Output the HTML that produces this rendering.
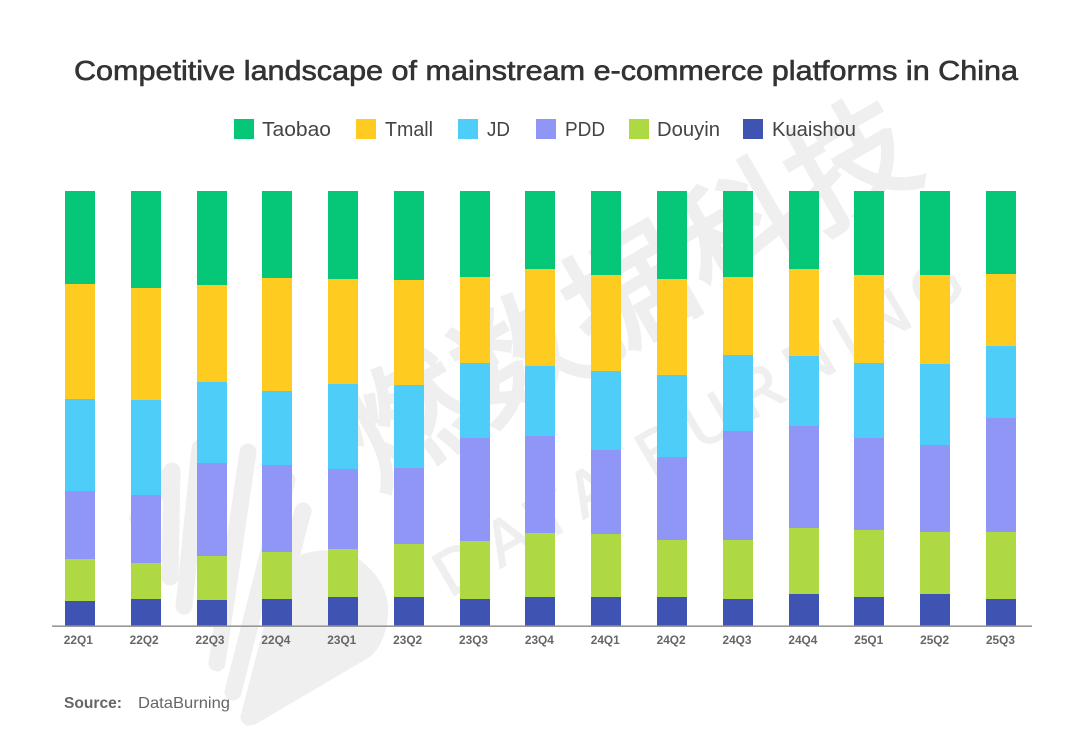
<!DOCTYPE html>
<html lang="en">
<head>
<meta charset="utf-8">
<title>Competitive landscape of mainstream e-commerce platforms in China</title>
<style>
  html, body { margin: 0; padding: 0; background: #fff; }
  #chart { display: block; width: 1080px; height: 750px; }
  text { font-family: "Liberation Sans", "Noto Sans CJK SC", sans-serif; }
</style>
</head>
<body>
<svg id="chart" xmlns="http://www.w3.org/2000/svg" width="1080" height="750" viewBox="0 0 1080 750">
  <rect x="0" y="0" width="1080" height="750" fill="#ffffff"/>

  <g id="watermark" fill="#efefef">
    <g stroke="#efefef" stroke-width="17" stroke-linecap="round" fill="none">
      <line x1="172" y1="471" x2="138" y2="518"/>
      <line x1="172" y1="471" x2="170" y2="577"/>
      <line x1="200" y1="448" x2="184" y2="606"/>
      <line x1="248" y1="452" x2="217" y2="663"/>
      <line x1="287" y1="480" x2="233" y2="692"/>
      <line x1="303" y1="511" x2="249" y2="717"/>
    </g>
    <path fill="#efefef" d="M300 555 C320 548 345 548 360 560 C380 575 390 595 388 615 C386 635 380 650 368 658 L256 724 C248 728 241 722 242 714 Z"/>
    <text transform="translate(376,490) rotate(-30)" font-size="124" letter-spacing="4" font-family="'Noto Sans CJK SC', sans-serif" fill="#efefef" stroke="#efefef" stroke-width="4">燃数据科技</text>
    <text transform="translate(450,598) rotate(-30.5)" font-size="64" textLength="610" fill="#efefef" stroke="#efefef" stroke-width="1.5" letter-spacing="8">DATA BURNING</text>
  </g>

  <text x="74" y="80" font-size="27.5" fill="#333333" stroke="#333333" stroke-width="0.6" textLength="944" lengthAdjust="spacingAndGlyphs">Competitive landscape of mainstream e-commerce platforms in China</text>

  <g id="legend"></g>
  <g id="bars"></g>
  <line x1="52" y1="626.2" x2="1032" y2="626.2" stroke="#999999" stroke-width="1.6"/>
  <g id="ticks"></g>

  <text x="64" y="708" font-size="15.5" font-weight="700" fill="#666666" textLength="58" lengthAdjust="spacingAndGlyphs">Source:</text>
  <text x="138" y="708" font-size="16" fill="#666666" textLength="92" lengthAdjust="spacingAndGlyphs">DataBurning</text>
</svg>

<script>
const quarters = ['22Q1','22Q2','22Q3','22Q4','23Q1','23Q2','23Q3','23Q4','24Q1','24Q2','24Q3','24Q4','25Q1','25Q2','25Q3'];
const taobao   = [21.3,22.3,21.6,20.0,20.2,20.5,19.8,17.9,19.3,20.3,19.8,17.9,19.3,19.3,19.1];
const tmall    = [26.5,25.7,22.3,26.0,24.1,24.1,19.8,22.3,22.1,22.0,17.9,20.0,20.2,20.5,16.6];
const jd       = [21.1,21.8,18.6,17.0,19.5,19.1,17.2,16.1,18.2,18.9,17.5,16.1,17.2,18.6,16.6];
const pdd      = [15.6,15.6,21.4,20.0,18.4,17.5,23.7,22.3,19.3,19.1,25.1,23.4,21.1,20.0,26.2];
const douyin   = [9.7,8.3,10.1,10.8,11.0,12.2,13.3,14.7,14.5,13.1,13.6,15.2,15.4,14.3,15.4];
const kuaishou = [5.7,6.2,6.0,6.2,6.7,6.7,6.2,6.7,6.7,6.7,6.2,7.4,6.7,7.4,6.2];
const seriesNames = ['Taobao','Tmall','JD','PDD','Douyin','Kuaishou'];

const NS = 'http://www.w3.org/2000/svg';
const seriesValues = [taobao, tmall, jd, pdd, douyin, kuaishou];
const seriesColors = ['#05c777','#fecb20','#4dcdf8','#9096f6','#aed942','#3f53b2'];

/* Legend geometry, one slot per series in drawing order */
const legendSwatchX = [234,356,458,536,629,743];
const legendTextX   = [262,385,487,565,657,772];
const legendTextW   = [69,48,23,40,63,84];

function xScale(i) { return 80 + i * 65.78; }
function yScale(v) { return 626 - v * 4.35; }
const barWidth = 30;

const barsLayer = document.getElementById('bars');
quarters.forEach(function (q, i) {
  const group = document.createElementNS(NS, 'g');
  
  
  const left = Math.round(xScale(i) - barWidth / 2);
  let cumulative = 0;
  for (let s = seriesValues.length - 1; s >= 0; s--) {
    const value = seriesValues[s][i];
    const yBottom = Math.round(yScale(cumulative));
    cumulative += value;
    const yTop = Math.round(yScale(cumulative));
    const seg = document.createElementNS(NS, 'rect');
    
    
    seg.setAttribute('x', left);
    seg.setAttribute('y', yTop);
    seg.setAttribute('width', barWidth);
    seg.setAttribute('height', yBottom - yTop);
    seg.setAttribute('fill', seriesColors[s]);
    group.appendChild(seg);
  }
  barsLayer.appendChild(group);
});

const ticksLayer = document.getElementById('ticks');
quarters.forEach(function (q, i) {
  const tick = document.createElementNS(NS, 'text');
  
  
  tick.setAttribute('x', (xScale(i) - 1.7 + i * 0.09 - 14.5).toFixed(2));
  tick.setAttribute('y', 644);
  tick.setAttribute('font-size', 12);
  tick.setAttribute('font-weight', 700);
  tick.setAttribute('fill', '#666666');
  tick.setAttribute('textLength', 29);
  tick.setAttribute('lengthAdjust', 'spacingAndGlyphs');
  tick.textContent = q;
  ticksLayer.appendChild(tick);
});

const legendLayer = document.getElementById('legend');
seriesNames.forEach(function (name, s) {
  const entry = document.createElementNS(NS, 'g');
  
  
  const swatch = document.createElementNS(NS, 'rect');
  
  
  swatch.setAttribute('x', legendSwatchX[s]);
  swatch.setAttribute('y', 119);
  swatch.setAttribute('width', 20);
  swatch.setAttribute('height', 20);
  swatch.setAttribute('fill', seriesColors[s]);
  const label = document.createElementNS(NS, 'text');
  
  
  label.setAttribute('x', legendTextX[s]);
  label.setAttribute('y', 136);
  label.setAttribute('font-size', 20);
  label.setAttribute('fill', '#444444');
  label.setAttribute('textLength', legendTextW[s]);
  label.setAttribute('lengthAdjust', 'spacingAndGlyphs');
  label.textContent = name;
  entry.appendChild(swatch);
  entry.appendChild(label);
  legendLayer.appendChild(entry);
});
</script>
</body>
</html>
